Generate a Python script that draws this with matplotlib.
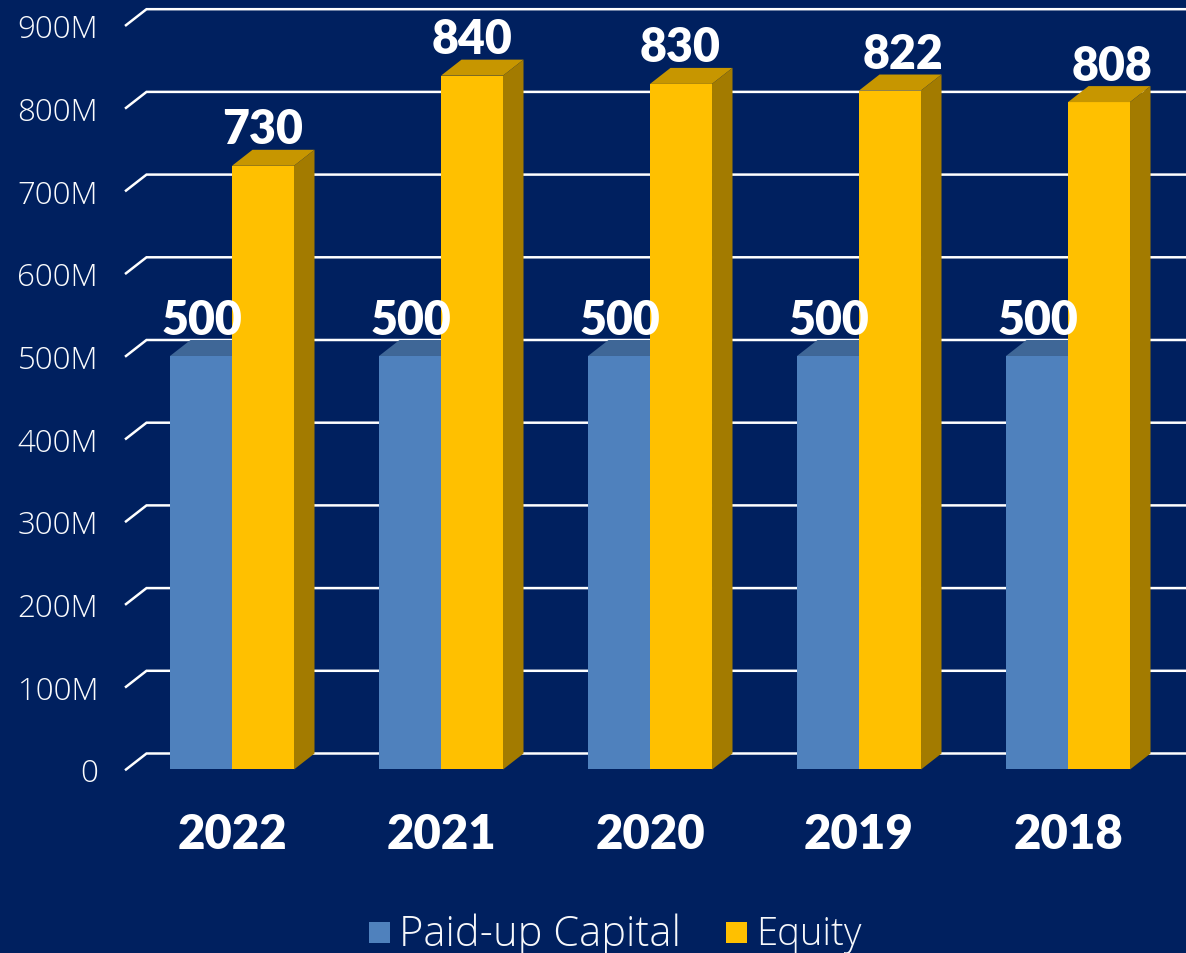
import matplotlib

matplotlib.use("Agg")
import matplotlib.pyplot as plt
from matplotlib.patches import Polygon, Rectangle

years = ["2022", "2021", "2020", "2019", "2018"]
capital = [500, 500, 500, 500, 500]
equity = [730, 840, 830, 822, 808]
# what the chart prints over the bars, differs a bit from the bar heights
equity_heights = [730, 839, 829, 821, 807]
ticks = [0, 100, 200, 300, 400, 500, 600, 700, 800, 900]
tick_labels = ["0", "100M", "200M", "300M", "400M", "500M", "600M", "700M", "800M", "900M"]

BG = "#00205f"
BLUE = ("#4f81bd", "#3f6797", "#3a5f8c")
GOLD = ("#ffc000", "#c79600", "#a37b00")

W, H = 1186, 953
Y0 = 769.5  # pixel row of the value 0 on the front plane
PX_X = 209.0  # pixels per category
PX_Y = 0.827  # pixels per 1M
DX = 20.5 / PX_X
DY = 16 / PX_Y
BAR_W = 62 / PX_X
LABEL_SHIFT = [0, 0, -1, 13, 13]  # the last two equity labels sit further right

plt.rcParams["font.family"] = ["Lato", "DejaVu Sans"]

fig = plt.figure(figsize=((W + 0.01) / 100, (H + 0.01) / 100), dpi=100, facecolor=BG)
ax = fig.add_axes([0, 0, 1, 1])
ax.set_xlim(-232 / PX_X, (W - 232) / PX_X)
ax.set_ylim((Y0 - H) / PX_Y, Y0 / PX_Y)
ax.axis("off")

left = (126 - 232) / PX_X

for t, lab in zip(ticks, tick_labels):
    ax.plot([left, left + DX, ax.get_xlim()[1]], [t, t + DY, t + DY],
            color="white", lw=1.8, zorder=1, solid_joinstyle="miter")
    ax.text(left - 28 / PX_X, t - 6, lab, color="#fafbfd", fontsize=22.5,
            ha="right", va="center", family="Open Sans", fontweight="light")


def bar3d(x, h, cols, z):
    ax.add_patch(Rectangle((x, 0), BAR_W, h, fc=cols[0], ec="none", zorder=z))
    ax.add_patch(Polygon([(x, h), (x + DX, h + DY), (x + BAR_W + DX, h + DY), (x + BAR_W, h)],
                         fc=cols[1], ec="none", zorder=z))
    ax.add_patch(Polygon([(x + BAR_W, 0), (x + BAR_W + DX, DY), (x + BAR_W + DX, h + DY), (x + BAR_W, h)],
                         fc=cols[2], ec="none", zorder=z))


for i, y in enumerate(years):
    bar3d(i - BAR_W, capital[i], BLUE, 2)
    bar3d(i, equity_heights[i], GOLD, 3)
    ax.text(i - 30.5 / PX_X, capital[i] + 42, str(capital[i]), color="white", fontsize=33.5,
            fontweight="heavy", ha="center", va="center", zorder=5)
    ax.text(i + (31 + LABEL_SHIFT[i]) / PX_X, equity_heights[i] + 43, str(equity[i]), color="white",
            fontsize=33.5, fontweight="heavy", ha="center", va="center", zorder=5)
    ax.text(i, -79.5, y, color="white", fontsize=34, fontweight="heavy",
            ha="center", va="center")

# legend
ly = (Y0 - 933) / PX_Y
sq = 21
ax.add_patch(Rectangle(((369 - 232) / PX_X, ly - sq / 2 / PX_Y), sq / PX_X, sq / PX_Y, fc=BLUE[0], ec="none"))
ax.text((399 - 232) / PX_X, ly - 2, "Paid-up Capital", color="#f7f8fb", fontsize=30,
        family="Open Sans", fontweight="light", ha="left", va="center")
ax.add_patch(Rectangle(((726 - 232) / PX_X, ly - sq / 2 / PX_Y), sq / PX_X, sq / PX_Y, fc=GOLD[0], ec="none"))
ax.text((756 - 232) / PX_X, ly - 2, "Equity", color="#f7f8fb", fontsize=27.5,
        family="Open Sans", fontweight="light", ha="left", va="center")

fig.savefig("out.png", dpi=100, facecolor=BG)
